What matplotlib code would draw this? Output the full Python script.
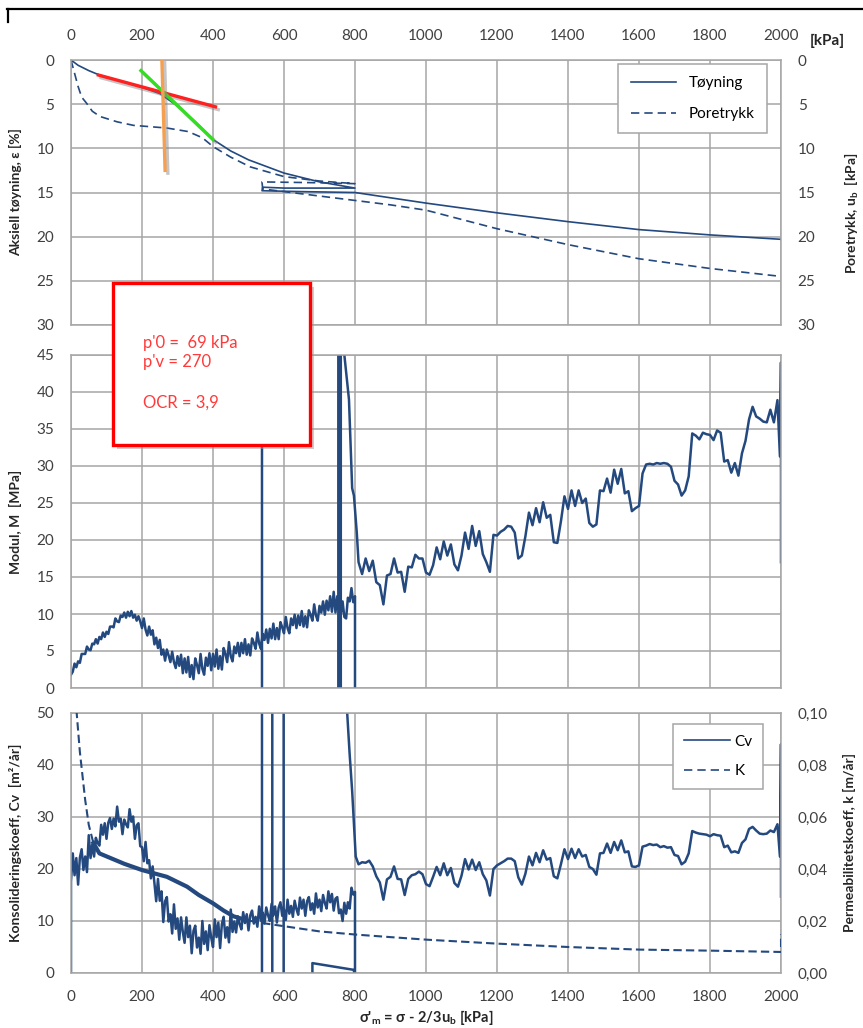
import numpy as np
import matplotlib.pyplot as plt
import matplotlib.patheffects as pe
from matplotlib.lines import Line2D
from matplotlib.patches import Rectangle

plt.rcParams['font.family'] = ['Lato', 'DejaVu Sans']
plt.rcParams['mathtext.default'] = 'regular'

BLUE = '#24497f'
GRID = '#a6a6a6'
TICK = '#404040'
LABEL = '#262626'

# %%
# Strain and pore pressure vs mean effective stress [kPa]

eps_x = [0, 20, 50, 80, 150, 200, 250, 300, 350, 400, 450, 500, 600, 700, 800,
         700, 600, 540, 538, 650, 800, 900, 1000, 1200, 1400, 1600, 1800, 2000]
eps = [0, 0.6, 1.2, 1.7, 2.5, 3.1, 3.8, 5.2, 7.0, 9.0, 10.3, 11.3, 12.8, 13.8, 14.5,
       14.5, 14.5, 14.4, 14.8, 14.9, 15.0, 15.6, 16.2, 17.3, 18.3, 19.2, 19.8, 20.3]

u_x = [0, 10, 20, 30, 44, 60, 82, 130, 176, 270, 330, 370, 400, 450, 505, 600, 700, 800,
       700, 538, 540, 700, 800, 900, 1000, 1200, 1400, 1600, 1800, 2000]
u = [0, 1.5, 3.0, 4.2, 4.9, 5.8, 6.4, 7.0, 7.4, 7.7, 8.1, 8.8, 9.8, 11.0, 12.1, 13.2, 13.7, 14.0,
     13.9, 13.8, 14.6, 15.4, 15.9, 16.4, 17.0, 19.1, 20.9, 22.5, 23.6, 24.5]

# construction lines for preconsolidation
red_x, red_y = [77, 407], [1.7, 5.3]
green_x, green_y = [197, 400], [1.2, 9.0]
orange_x, orange_y = [256, 265], [0.0, 12.5]

# %%
# Modulus M [MPa]

m_x_load = np.arange(0, 805, 5)
m_load = [1.8, 2.2, 3.3, 2.8, 3.6, 3.4, 4.6, 4.6, 4.6, 5.6, 5.2, 5.1, 6.0, 5.9, 6.6, 6.0,
          6.9, 6.6, 7.5, 6.9, 7.6, 7.3, 8.3, 8.3, 8.2, 9.4, 9.0, 8.9, 9.8, 9.6, 10.2, 9.5,
          10.3, 9.7, 10.4, 9.5, 9.9, 9.1, 9.7, 9.0, 8.1, 9.4, 7.9, 7.1, 8.3, 7.2, 7.8, 5.9,
          6.8, 5.4, 6.5, 4.5, 5.2, 3.7, 5.2, 4.4, 3.5, 4.9, 3.5, 2.7, 4.3, 3.0, 4.5, 2.0,
          4.0, 2.1, 4.2, 1.5, 3.1, 1.2, 4.0, 3.1, 2.0, 4.6, 2.6, 1.8, 4.1, 3.0, 4.7, 2.4,
          4.6, 2.9, 5.2, 2.6, 4.3, 2.5, 5.4, 4.6, 3.5, 6.2, 4.3, 3.6, 5.6, 4.7, 6.1, 4.3,
          6.1, 4.7, 6.6, 4.5, 5.9, 4.4, 6.7, 6.1, 5.3, 7.5, 6.0, 5.3, 7.3, 6.5, 7.9, 6.1,
          8.0, 6.7, 8.7, 6.6, 8.1, 6.6, 8.9, 8.2, 7.4, 9.6, 8.1, 7.4, 9.4, 8.5, 9.9, 8.1,
          9.8, 8.5, 10.4, 8.3, 9.7, 8.2, 10.5, 9.9, 9.1, 11.3, 9.8, 9.1, 11.1, 10.2, 11.7, 9.9,
          11.8, 10.5, 12.4, 10.3, 13.0, 10.2, 12.4, 11.3, 10.0, 11.7, 9.6, 9.4, 12.2, 11.7, 13.5, 11.6,
          12.4]

# unload / reload cycle (mostly off scale)
m_x_cycle = [800, 800, 540, 538, 538, 753, 753, 760, 760, 770, 783, 792, 797, 805]
m_cycle = [12.4, -5, -5, -5, 60, 60, -5, -5, 60, 45, 39, 27, 26, 21]

m_x_high = np.arange(810, 2000, 10)
m_high = [17.0, 15.4, 17.5, 15.8, 17.2, 14.3, 13.9, 11.3, 15.2, 15.4,
          17.5, 15.6, 15.7, 13.0, 16.4, 16.3, 18.0, 17.5, 17.5, 15.6,
          15.3, 16.6, 19.0, 17.4, 19.8, 17.9, 19.4, 16.7, 15.9, 17.9,
          21.0, 18.8, 21.9, 19.2, 21.2, 18.1, 17.0, 15.7, 20.7, 20.6,
          21.1, 21.4, 21.9, 21.8, 21.0, 17.5, 17.9, 20.5, 23.7, 22.0,
          24.3, 22.4, 25.1, 23.0, 23.4, 19.7, 19.6, 22.5, 25.9, 24.2,
          26.7, 24.6, 26.7, 25.0, 25.6, 22.3, 21.8, 22.1, 26.7, 26.6,
          28.3, 26.4, 29.5, 27.6, 29.6, 26.3, 26.6, 23.9, 24.3, 24.6,
          29.0, 30.2, 30.3, 30.2, 30.4, 30.3, 30.4, 30.3, 29.9, 28.0,
          27.5, 26.0, 26.7, 28.6, 34.4, 34.1, 33.6, 34.5, 34.3, 34.2,
          33.5, 34.8, 34.5, 30.6, 30.8, 29.1, 30.4, 28.7, 31.7, 33.4,
          36.3, 38.0, 36.7, 36.4, 36.0, 35.9, 37.6, 35.9, 38.9]

m_x_end = [1997, 2000, 2000]
m_end = [31.3, 44, 17]

# %%
# Consolidation coefficient Cv [m2/år] and permeability k [m/år]

cv_x_load = np.arange(0, 805, 5)
cv_load = [17.6, 23.0, 18.8, 22.1, 17.0, 22.2, 23.8, 19.8, 22.4, 19.4, 26.5, 22.1,
           24.7, 22.4, 26.0, 25.0, 24.5, 28.5, 26.6, 28.8, 25.8, 28.9, 29.8, 27.7,
           29.7, 28.2, 32.0, 29.1, 29.7, 26.7, 29.5, 28.6, 28.0, 31.5, 29.1, 30.1,
           25.8, 28.4, 28.8, 24.4, 24.2, 21.5, 25.2, 21.1, 21.7, 18.2, 20.5, 17.3,
           13.8, 18.1, 13.9, 15.7, 9.8, 13.8, 14.6, 9.9, 11.3, 7.6, 13.2, 8.5,
           10.5, 6.4, 10.7, 7.9, 5.8, 10.7, 6.9, 9.1, 3.8, 8.1, 9.1, 4.9,
           6.8, 3.7, 10.0, 5.6, 8.0, 4.4, 9.2, 6.8, 5.0, 10.3, 6.9, 9.7,
           4.8, 9.4, 10.8, 6.8, 8.8, 5.9, 12.2, 7.9, 9.9, 7.8, 10.9, 9.4,
           8.4, 11.7, 9.6, 11.3, 8.2, 11.1, 12.0, 9.5, 10.8, 8.9, 12.8, 10.1,
           11.6, 9.5, 12.6, 11.1, 10.0, 13.3, 11.1, 12.8, 9.7, 12.6, 13.6, 11.0,
           12.2, 10.2, 14.1, 11.4, 12.9, 10.8, 13.9, 12.3, 11.2, 14.5, 12.4, 14.1,
           11.0, 13.8, 14.6, 12.1, 13.4, 11.4, 15.3, 12.6, 14.1, 11.9, 15.0, 13.5,
           12.4, 15.7, 13.6, 15.2, 12.0, 14.3, 14.6, 11.5, 12.2, 10.0, 13.5, 11.4,
           13.6, 12.4, 16.4, 15.1, 15.6]

cv_x_cycle = [800, 800, 797, 680, 680, 599, 599, 567, 567, 538, 538, 776, 778, 785, 792, 802]
cv_cycle = [15.6, -5, 0.6, 1.9, -5, -5, 60, 60, -5, -5, 60, 60, 50, 42, 35, 22.4]

cv_x_high = np.arange(810, 2000, 10)
cv_high = [20.9, 21.3, 21.2, 21.6, 20.5, 18.6, 17.4, 14.1, 18.0, 18.5,
           20.5, 18.1, 18.0, 15.0, 18.1, 18.8, 19.0, 19.5, 19.0, 17.1,
           16.7, 18.5, 20.4, 18.8, 21.1, 18.8, 20.2, 17.3, 16.6, 18.7,
           21.9, 19.9, 21.8, 19.8, 21.3, 19.0, 17.8, 14.9, 20.0, 20.7,
           21.1, 21.5, 22.0, 22.0, 21.5, 18.4, 17.0, 19.1, 22.4, 20.7,
           23.1, 21.3, 23.6, 21.8, 22.1, 18.6, 18.2, 20.9, 23.8, 21.9,
           23.9, 22.1, 23.8, 22.4, 22.7, 20.4, 20.0, 18.9, 23.0, 23.1,
           24.9, 23.1, 25.2, 23.6, 25.5, 23.2, 23.4, 20.5, 20.4, 20.7,
           24.3, 24.5, 24.8, 24.6, 24.7, 24.2, 24.4, 24.1, 24.2, 22.7,
           22.5, 20.9, 21.4, 23.0, 27.3, 27.0, 26.8, 26.7, 26.6, 26.3,
           26.7, 26.5, 26.4, 24.2, 24.5, 23.2, 23.4, 23.1, 25.0, 25.7,
           27.7, 28.1, 27.4, 26.8, 26.7, 26.8, 27.4, 27.1, 28.6]

cv_x_end = [1997, 2000, 2000]
cv_end = [22.4, 44, 14.7]

k_x = [0, 16, 25, 40, 50, 63, 80, 101, 150, 200, 270, 327, 360, 400, 430, 458, 490,
       515, 550, 600, 700, 800, 900, 1004, 1200, 1400, 1600, 1800, 1996, 2000, 2000]
k = [0.13, 0.100, 0.085, 0.0665, 0.057, 0.050, 0.046, 0.0448, 0.042, 0.0396, 0.037,
     0.0332, 0.030, 0.0268, 0.024, 0.0218, 0.0205, 0.0198, 0.0190, 0.0180, 0.0160,
     0.0148, 0.0138, 0.0128, 0.0113, 0.0100, 0.0090, 0.0086, 0.0081, 0.0081, 0.015]

x_ticks = list(range(0, 2001, 200))
k_ticks = [0.0, 0.02, 0.04, 0.06, 0.08, 0.10]
k_labels = ['0,00', '0,02', '0,04', '0,06', '0,08', '0,10']

assert len(m_load) == len(m_x_load) and len(m_high) == len(m_x_high)
assert len(cv_load) == len(cv_x_load) and len(cv_high) == len(cv_x_high)

m_x = np.concatenate([m_x_load, m_x_cycle, m_x_high, m_x_end])
m = np.concatenate([m_load, m_cycle, m_high, m_end])
cv_x = np.concatenate([[0], cv_x_load, cv_x_cycle, cv_x_high, cv_x_end])
cv = np.concatenate([[0], cv_load, cv_cycle, cv_high, cv_end])


# %%
# Figure

def style(ax):
    ax.set_xlim(0, 2000)
    ax.set_xticks(x_ticks)
    ax.grid(True, color=GRID, lw=1.1)
    ax.set_axisbelow(True)
    for s in ax.spines.values():
        s.set_color(GRID)
        s.set_linewidth(1.1)
    ax.tick_params(length=0, labelsize=11, labelcolor=TICK, pad=12)


def style_twin(ax):
    for s in ax.spines.values():
        s.set_visible(False)
    ax.tick_params(length=0, labelsize=11, labelcolor=TICK, pad=12)


fig = plt.figure(figsize=(8.63, 10.28), dpi=100)
L, W = 71 / 863, 710 / 863
ax1 = fig.add_axes([L, 1 - 325 / 1028, W, 265 / 1028])
ax2 = fig.add_axes([L, 1 - 688 / 1028, W, 333 / 1028])
ax3 = fig.add_axes([L, 1 - 973 / 1028, W, 260 / 1028])

# top panel
style(ax1)
ax1.xaxis.tick_top()
ax1.set_ylim(30, 0)
ax1.set_yticks(range(0, 31, 5))
ax1.plot(eps_x, eps, color=BLUE, lw=1.2, label='Tøyning')
ax1.plot(u_x, u, color=BLUE, lw=1.2, ls=(0, (5, 3)), label='Poretrykk')
shadow = [pe.SimpleLineShadow(offset=(2, -2), shadow_color='#808080', alpha=0.45), pe.Normal()]
ax1.plot(red_x, red_y, color='#ff2020', lw=2.4, path_effects=shadow, zorder=4)
ax1.plot(green_x, green_y, color='#33dd22', lw=2.4, path_effects=shadow, zorder=4)
ax1.plot(orange_x, orange_y, color='#f5a050', lw=2.4, path_effects=shadow, zorder=5)
ax1.set_ylabel('Aksiell tøyning, ε [%]', fontsize=10, fontweight='bold', color=LABEL)
ax1.yaxis.set_label_coords(-0.069, 0.5)
leg1 = ax1.legend(loc='upper right', bbox_to_anchor=(0.98, 0.985), borderaxespad=0,
                  fancybox=False, edgecolor=GRID, framealpha=1, handlelength=3.0,
                  labelspacing=1.1, borderpad=0.8, fontsize=11)
leg1.get_frame().set_linewidth(1.1)

ax1r = ax1.twinx()
ax1r.set_ylim(30, 0)
ax1r.set_yticks(range(0, 31, 5))
style_twin(ax1r)
ax1r.set_ylabel('Poretrykk, u$_{b}$  [kPa]', fontsize=10, fontweight='bold', color=LABEL)
ax1r.yaxis.set_label_coords(1.087, 0.42)

# middle panel
style(ax2)
ax2.set_ylim(0, 45)
ax2.set_yticks(range(0, 46, 5))
ax2.tick_params(labelbottom=False)
ax2.plot(m_x, m, color=BLUE, lw=1.8)
ax2.set_ylabel('Modul, M  [MPa]', fontsize=10, fontweight='bold', color=LABEL)
ax2.yaxis.set_label_coords(-0.069, 0.5)

# bottom panel
style(ax3)
ax3.set_ylim(0, 50)
ax3.set_yticks(range(0, 51, 10))
ax3.plot(cv_x, cv, color=BLUE, lw=1.8)
ax3.set_ylabel('Konsolideringskoeff, Cv  [m²/år]', fontsize=10, fontweight='bold', color=LABEL)
ax3.yaxis.set_label_coords(-0.069, 0.5)
ax3.set_xlabel("σ'$_{m}$ = σ - 2/3u$_{b}$ [kPa]", fontsize=10.5, fontweight='bold', color=LABEL)
ax3.xaxis.set_label_coords(0.5, -0.135)

ax3r = ax3.twinx()
ax3r.set_ylim(0, 0.10)
ax3r.set_yticks(k_ticks)
ax3r.set_yticklabels(k_labels)
style_twin(ax3r)
ax3r.plot(k_x, k, color=BLUE, lw=1.5, ls=(0, (4, 2)))
ax3r.plot(k_x[5:17], k[5:17], color=BLUE, lw=3.0)
ax3r.set_ylabel('Permeabilitetskoeff, k [m/år]', fontsize=10, fontweight='bold', color=LABEL)
ax3r.yaxis.set_label_coords(1.087, 0.5)
handles = [Line2D([], [], color=BLUE, lw=1.2), Line2D([], [], color=BLUE, lw=1.2, ls=(0, (5, 3)))]
leg3 = ax3r.legend(handles, ['Cv', 'K'], loc='upper right', bbox_to_anchor=(0.975, 0.958),
                   borderaxespad=0, fancybox=False, edgecolor=GRID, framealpha=1,
                   handlelength=3.0, labelspacing=1.0, borderpad=0.7, handletextpad=0.3,
                   fontsize=11)
leg3.get_frame().set_linewidth(1.1)

# unit for the top stress axis
fig.text(810 / 863, 1 - 41 / 1028, '[kPa]', fontsize=11, fontweight='bold', color=LABEL, va='center')

# frame line at the top
fig.add_artist(Line2D([7 / 863, 1], [1 - 9 / 1028] * 2, color='black', lw=1.6))
fig.add_artist(Line2D([8 / 863] * 2, [1 - 9 / 1028, 1 - 22 / 1028], color='black', lw=1.6))

# result box
bx, by, bw, bh = 113 / 863, 1 - 445 / 1028, 197 / 863, 162 / 1028
fig.add_artist(Rectangle((bx + 4 / 863, by - 4 / 1028), bw, bh, facecolor='#9a9a9a',
                         edgecolor='none', alpha=0.5, zorder=9))
fig.add_artist(Rectangle((bx, by), bw, bh, facecolor='white', edgecolor='#ff0000',
                         lw=2.4, zorder=10))
for txt, ypx in [("p'0 =  69 kPa", 343), ("p'v = 270", 362), ('OCR = 3,9', 403)]:
    fig.text(143 / 863, 1 - ypx / 1028, txt, fontsize=12, color='#ff3a3a', va='center', zorder=11)

fig.savefig('out.png', dpi=100)
